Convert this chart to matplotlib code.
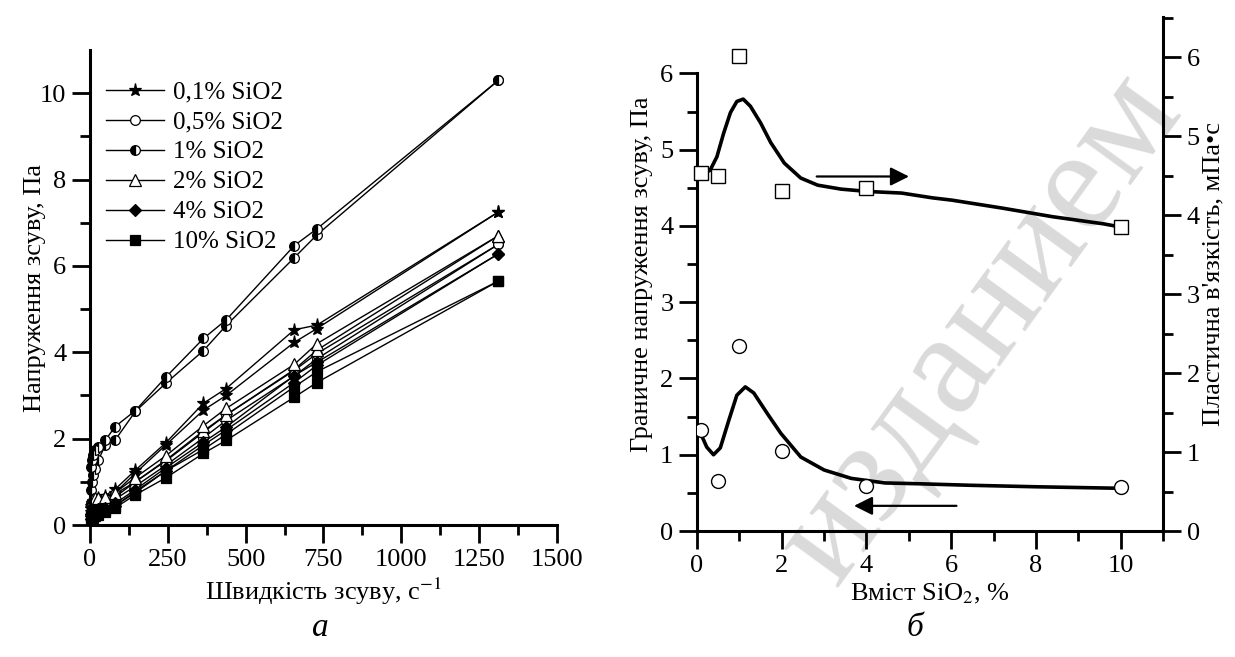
import matplotlib
matplotlib.use("Agg")
import matplotlib.pyplot as plt

plt.rcParams['font.family'] = ['Liberation Serif', 'DejaVu Serif']
plt.rcParams['mathtext.fontset'] = 'stix'

# ---------------- data: panel (a) ----------------
shear_rate = [3, 5.4, 9, 16.2, 27, 48.6, 81, 145.8, 243, 364.5, 437.4, 656.1, 729, 1312]

s01_up   = [0.45, 0.50, 0.55, 0.58, 0.62, 0.68, 0.83, 1.27, 1.90, 2.82, 3.16, 4.52, 4.63, 7.25]
s01_down = [0.30, 0.35, 0.40, 0.45, 0.52, 0.60, 0.75, 1.20, 1.85, 2.66, 3.00, 4.23, 4.55, 7.25]
s05_up   = [0.50, 0.52, 0.55, 0.58, 0.60, 0.62, 0.72, 1.00, 1.48, 2.15, 2.55, 3.58, 3.97, 6.50]
s05_down = [0.30, 0.33, 0.36, 0.40, 0.45, 0.52, 0.60, 0.90, 1.38, 2.02, 2.42, 3.45, 3.85, 6.50]
s1_up    = [1.35, 1.50, 1.62, 1.73, 1.80, 1.96, 2.28, 2.65, 3.42, 4.32, 4.75, 6.47, 6.86, 10.30]
s1_down  = [0.80, 1.00, 1.15, 1.30, 1.50, 1.85, 1.97, 2.63, 3.28, 4.04, 4.62, 6.19, 6.72, 10.30]
s2_up    = [0.55, 0.57, 0.60, 0.62, 0.63, 0.66, 0.75, 1.10, 1.60, 2.30, 2.70, 3.72, 4.20, 6.70]
s2_down  = [0.35, 0.38, 0.40, 0.43, 0.47, 0.55, 0.65, 1.00, 1.50, 2.18, 2.55, 3.60, 4.05, 6.70]
s4_up    = [0.25, 0.28, 0.30, 0.33, 0.36, 0.40, 0.50, 0.82, 1.32, 1.92, 2.27, 3.46, 3.77, 6.28]
s4_down  = [0.15, 0.18, 0.20, 0.24, 0.28, 0.35, 0.45, 0.78, 1.25, 1.85, 2.20, 3.30, 3.70, 6.28]
s10_up   = [0.20, 0.22, 0.25, 0.28, 0.30, 0.35, 0.45, 0.75, 1.25, 1.75, 2.10, 3.20, 3.55, 5.65]
s10_down = [0.12, 0.14, 0.16, 0.20, 0.24, 0.30, 0.40, 0.70, 1.09, 1.66, 1.96, 2.96, 3.30, 5.65]

series_labels = ['0,1% SiO2', '0,5% SiO2', '1% SiO2', '2% SiO2', '4% SiO2', '10% SiO2']

# ---------------- data: panel (б) ----------------
sio2 = [0.1, 0.5, 1, 2, 4, 10]
yield_stress = [1.32, 0.65, 2.42, 1.05, 0.59, 0.58]
plastic_visc = [4.54, 4.49, 6.01, 4.31, 4.35, 3.85]

fit_tau_x = [0.07, 0.23, 0.39, 0.55, 0.75, 0.94, 1.14, 1.34, 1.66, 1.98, 2.45, 3.0, 3.64, 4.44, 5.2, 6.42, 8.0, 10.0]
fit_tau_y = [1.30, 1.10, 1.00, 1.09, 1.45, 1.78, 1.89, 1.81, 1.54, 1.28, 0.97, 0.80, 0.69, 0.63, 0.62, 0.60, 0.58, 0.56]
fit_eta_x = [0.11, 0.31, 0.47, 0.63, 0.79, 0.94, 1.09, 1.26, 1.5, 1.74, 2.06, 2.45, 2.85, 3.4, 4.04, 4.83, 5.55, 6.02, 7.2, 8.4, 9.6, 10.0]
fit_eta_y = [4.51, 4.57, 4.74, 5.04, 5.30, 5.44, 5.47, 5.38, 5.17, 4.92, 4.66, 4.47, 4.38, 4.33, 4.30, 4.28, 4.22, 4.19, 4.09, 3.98, 3.89, 3.85]

FS = 19
fig = plt.figure(figsize=(12.35, 6.57), dpi=100)

# watermark
fig.text(0.795, 0.50, "изданием", rotation=54, fontsize=106, color='#dadada',
         ha='center', va='center', zorder=-5)

def style_axis(ax):
    ax.patch.set_visible(False)
    for s in ax.spines.values():
        s.set_linewidth(2.2)
    ax.tick_params(which='major', direction='out', length=13, width=2, labelsize=FS, pad=4)
    ax.tick_params(which='minor', direction='out', length=7, width=2)

# ---------------- panel (a) ----------------
ax1 = fig.add_axes([90/1235, 132/657, 467/1235, 475/657])
style_axis(ax1)
ax1.spines['top'].set_visible(False)
ax1.spines['right'].set_visible(False)

lk = dict(color='black', lw=1.0, ms=7, mec='black', mew=0.9, clip_on=False)
pairs = [
    (s01_up, s01_down, dict(marker='*', mfc='black', ms=9.5)),
    (s05_up, s05_down, dict(marker='o', mfc='white')),
    (s1_up, s1_down, dict(marker='o', mfc='black', fillstyle='left', markerfacecoloralt='white')),
    (s2_up, s2_down, dict(marker='^', mfc='white', ms=8)),
    (s4_up, s4_down, dict(marker='D', mfc='black', ms=6.5)),
    (s10_up, s10_down, dict(marker='s', mfc='black', ms=6.5)),
]
handles = []
for (up, down, mk), lab in zip(pairs, series_labels):
    kw = dict(lk); kw.update(mk)
    ax1.plot(shear_rate, down, **kw)
    h, = ax1.plot(shear_rate, up, label=lab, **kw)
    handles.append(h)

ax1.set_xlim(0, 1500)
ax1.set_ylim(0, 11)
ax1.set_xticks([0, 250, 500, 750, 1000, 1250, 1500])
ax1.set_xticks([125, 375, 625, 875, 1125, 1375], minor=True)
ax1.set_yticks([0, 2, 4, 6, 8, 10])
ax1.set_yticks([1, 3, 5, 7, 9], minor=True)
ax1.set_xlabel("Швидкість зсуву, с$^{-1}$", fontsize=FS, labelpad=4)
ax1.set_ylabel("Напруження зсуву, Па", fontsize=FS)
ax1.yaxis.set_label_coords(-0.095, 0.5)
ax1.legend(handles=handles, loc='upper left', bbox_to_anchor=(0.035, 0.935),
           frameon=False, fontsize=FS - 1, handlelength=2.3, handletextpad=0.35,
           labelspacing=0.3, borderpad=0, borderaxespad=0, markerscale=1.0)

# ---------------- panel (б) ----------------
ax2 = fig.add_axes([697/1235, 126/657, 466/1235, 514/657])
style_axis(ax2)
ax3 = ax2.twinx()
style_axis(ax3)
for a in (ax2, ax3):
    a.spines['top'].set_visible(False)
ax2.spines['right'].set_visible(False)
ax3.spines['left'].set_visible(False)
ax3.spines['bottom'].set_visible(False)

ax2.plot(fit_tau_x, fit_tau_y, color='black', lw=2.6, zorder=2)
ax2.plot(sio2, yield_stress, ls='none', marker='o', ms=10, mfc='white', mec='black',
         mew=1.0, zorder=3)
ax3.plot(fit_eta_x, fit_eta_y, color='black', lw=2.6, zorder=2)
ax3.plot(sio2, plastic_visc, ls='none', marker='s', ms=10, mfc='white', mec='black',
         mew=1.0, zorder=3, clip_on=False)

ax2.set_xlim(0, 11)
ax2.set_ylim(0, 6.74)
ax3.set_ylim(0, 6.51)
ax2.spines['left'].set_bounds(0, 6)
ax2.set_xticks([0, 2, 4, 6, 8, 10])
ax2.set_xticks([1, 3, 5, 7, 9, 11], minor=True)
ax2.set_yticks([0, 1, 2, 3, 4, 5, 6])
ax2.set_yticks([0.5, 1.5, 2.5, 3.5, 4.5, 5.5], minor=True)
ax3.set_yticks([0, 1, 2, 3, 4, 5, 6])
ax3.set_yticks([0.5, 1.5, 2.5, 3.5, 4.5, 5.5, 6.5], minor=True)

ax3.annotate('', xy=(5.07, 4.49), xytext=(2.76, 4.49),
             arrowprops=dict(arrowstyle='-|>', lw=1.6, color='black', mutation_scale=28))
ax2.annotate('', xy=(3.64, 0.33), xytext=(6.19, 0.33),
             arrowprops=dict(arrowstyle='-|>', lw=1.6, color='black', mutation_scale=28))

ax2.set_xlabel("Вміст SiO$_2$, %", fontsize=FS, labelpad=4)
ax2.set_ylabel("Граничне напруження зсуву, Па", fontsize=FS)
ax2.yaxis.set_label_coords(-0.095, 0.5)
ax3.set_ylabel("Пластична в'язкість, мПа•с", fontsize=FS)
ax3.yaxis.set_label_coords(1.085, 0.5)

fig.text(320/1235, 1 - 628/657, "а", fontsize=24, style='italic', ha='center', va='center')
fig.text(915/1235, 1 - 628/657, "б", fontsize=24, style='italic', ha='center', va='center')

fig.savefig("out.png", dpi=100)
